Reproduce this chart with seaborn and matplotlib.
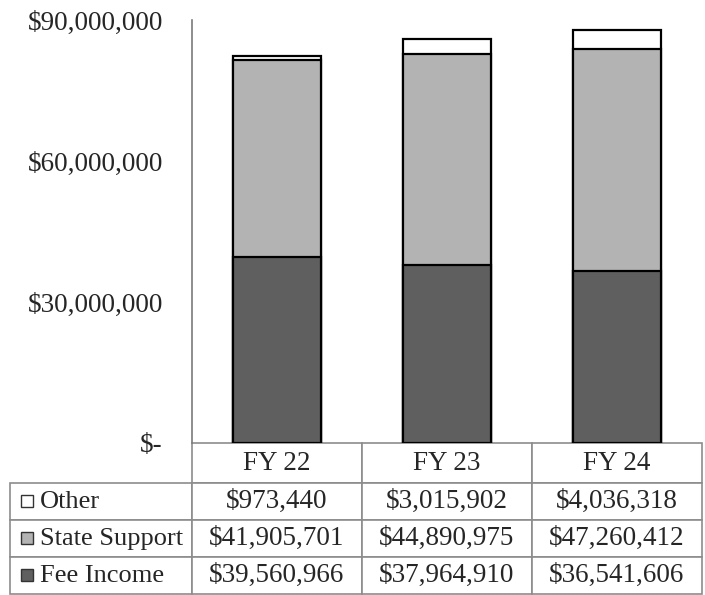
import numpy as np
import matplotlib
matplotlib.use("Agg")
import matplotlib.pyplot as plt
from matplotlib.patches import Rectangle
import seaborn as sns

# data from the chart
years = ["FY 22", "FY 23", "FY 24"]
series = ["Other", "State Support", "Fee Income"]
fee_income = [39560966, 37964910, 36541606]
state_support = [41905701, 44890975, 47260412]
other = [973440, 3015902, 4036318]
yticks = [0, 30000000, 60000000, 90000000]
ytick_labels = ["$-", "$30,000,000", "$60,000,000", "$90,000,000"]

colors = {"Other": "white", "State Support": "#b3b3b3", "Fee Income": "#5f5f5f"}

sns.set_style("white")
serif = ["Liberation Serif", "DejaVu Serif"]
plt.rcParams["font.family"] = serif

W, H = 705, 595
AX_W, AX_H = 510, 423
fig = plt.figure(figsize=(W / 100, H / 100), dpi=100)
ax = fig.add_axes([192 / W, 1 - 443 / H, AX_W / W, AX_H / H])

# stacked bars drawn as cumulative layers
fee = np.array(fee_income)
state = np.array(state_support)
oth = np.array(other)
layers = [(fee + state + oth, colors["Other"]),
          (fee + state, colors["State Support"]),
          (fee, colors["Fee Income"])]
for vals, c in layers:
    sns.barplot(x=years, y=vals, color=c, saturation=1, width=0.52,
                edgecolor="black", linewidth=1.6, ax=ax)

ax.set_ylim(0, 90000000)
ax.set_xlim(-0.5, 2.5)
ax.set_yticks(yticks)
ax.set_yticklabels(ytick_labels, fontsize=19.5, family=serif)
ax.tick_params(axis="y", length=0, pad=21)
ax.set_xticks([])
ax.set_xlabel("")
ax.set_ylabel("")
for s in ["top", "right", "bottom"]:
    ax.spines[s].set_visible(False)
ax.spines["left"].set_color("#7a7a7a")
ax.spines["left"].set_linewidth(1.2)

# data table under the bars (sizes in axes units; bbox covers the value cells)
cell_text = [["$" + format(v, ",") for v in other],
             ["$" + format(v, ",") for v in state_support],
             ["$" + format(v, ",") for v in fee_income]]
label_w = 182 / AX_W
col_w = 1 / 3
head_h = 40 / AX_H
row_h = 37 / AX_H
tbl_h = head_h + 3 * row_h
tbl = ax.table(cellText=cell_text, rowLabels=series, colLabels=years,
               cellLoc="center", rowLoc="left", colWidths=[col_w] * 3,
               bbox=[0, -tbl_h, 1, tbl_h])
tbl._autoColumns = []
tbl.auto_set_font_size(False)
for (r, c), cell in tbl.get_celld().items():
    cell.set_edgecolor("#8c8c8c")
    cell.set_linewidth(1.2)
    cell.get_text().set_fontsize(19 if c == -1 else 19.5)
    cell.get_text().set_family(serif)
    cell.set_height(head_h if r == 0 else row_h)
    if c == -1:
        cell.set_width(label_w)
        cell.PAD = 0.165

# legend keys in the row label cells
row_centers = [501, 538, 575]
for name, yc in zip(series, row_centers):
    fig.add_artist(Rectangle((21 / W, 1 - (yc + 6) / H), 12 / W, 12 / H,
                             transform=fig.transFigure, facecolor=colors[name],
                             edgecolor="#333333", linewidth=1.0))

fig.savefig("out.png", dpi=100)
